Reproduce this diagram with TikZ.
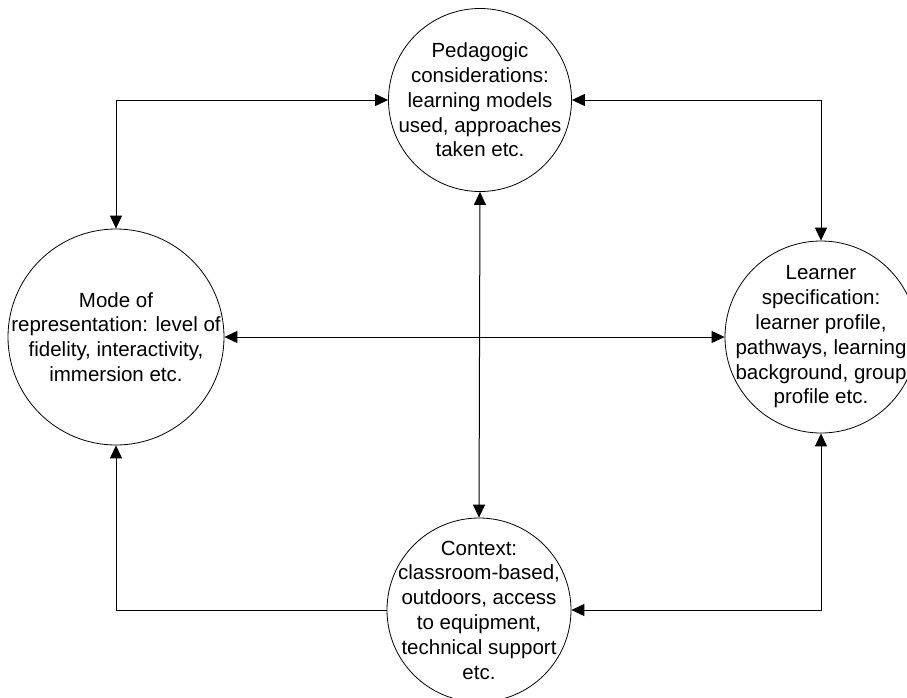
\documentclass[tikz,border=0pt]{standalone}
\usepackage{fontspec}
\setmainfont{Liberation Sans}
\usepackage{tikz}
\usetikzlibrary{positioning, arrows.meta, shapes}

\begin{document}
\begin{tikzpicture}[
        x=1pt, y=-1pt,
        bubble/.style={draw, circle, line width=0.8pt, inner sep=0pt},
        blurb/.style={align=center, inner sep=0pt, font=\fontsize{20.5}{24.8}\selectfont},
        link/.style={line width=1pt, -{Triangle[length=13pt, width=12pt]}},
        link2/.style={line width=1pt, {Triangle[length=13pt, width=12pt]}-{Triangle[length=13pt, width=12pt]}}
    ]
        \useasboundingbox (0,0) rectangle (907,697);

        \node[bubble, minimum size=183pt] (ped) at (480,100) {};
        \node[bubble, minimum size=216pt] (mode) at (116,337) {};
        \node[bubble, minimum size=192pt] (learner) at (821,337) {};
        \node[bubble, minimum size=184pt] (context) at (479,610) {};

        \node[blurb] at (ped) {Pedagogic\\considerations:\\learning models\\used, approaches\\taken etc.};
        \node[blurb] at (mode) {Mode of\\representation: level of\\fidelity, interactivity,\\immersion etc.};
        \node[blurb] at (learner) {Learner\\specification:\\learner profile,\\pathways, learning\\background, group\\profile etc.};
        \node[blurb] at (context) {Context:\\classroom-based,\\outdoors, access\\to equipment,\\technical support\\etc.};

        \draw[link2] (mode.north) |- (ped.west);
        \draw[link2] (ped.east) -| (learner.north);
        \draw[link2] (ped.south) -- (context.north);
        \draw[link2] (mode.east) -- (learner.west);
        \draw[link] (context.west) -| (mode.south);
        \draw[link2] (learner.south) |- (context.east);
    \end{tikzpicture}
\end{document}
